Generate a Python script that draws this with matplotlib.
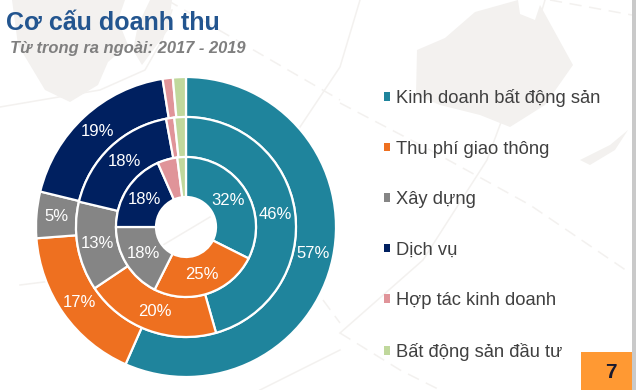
import matplotlib
matplotlib.use("Agg")
import matplotlib.pyplot as plt
from matplotlib.patches import Polygon, Rectangle

plt.rcParams['font.family'] = ['Liberation Sans', 'DejaVu Sans']

W, H = 636, 390
categories = ["Kinh doanh bất động sản", "Thu phí giao thông", "Xây dựng", "Dịch vụ",
              "Hợp tác kinh doanh", "Bất động sản đầu tư"]
colors = ["#1F849C", "#EE7020", "#858585", "#002060", "#E09499", "#C0D89C"]
values_2017 = [32.4, 25.0, 17.6, 18.4, 4.6, 2.0]
values_2018 = [45.6, 20.0, 13.1, 18.4, 1.2, 1.7]
values_2019 = [56.6, 17.2, 5.0, 18.7, 1.1, 1.4]
title = "Cơ cấu doanh thu"
subtitle = "Từ trong ra ngoài: 2017 - 2019"
page = "7"

fig = plt.figure(figsize=(W / 100, H / 100), dpi=100, facecolor="white")

# slide background decoration, in pixel coordinates
bg = fig.add_axes([0, 0, 1, 1])
bg.set_xlim(0, W)
bg.set_ylim(H, 0)
bg.axis("off")
land = "#F3F1EF"
bg.add_patch(Polygon([(12, 0), (125, 0), (118, 20), (128, 45), (108, 62), (98, 85), (70, 102), (45, 90),
                      (18, 45)], color=land, lw=0))
bg.add_patch(Polygon([(150, 0), (172, 0), (168, 30), (142, 65), (133, 50), (138, 25)], color=land, lw=0))
bg.add_patch(Polygon([(417, 50), (445, 38), (475, 12), (518, 0), (520, 14), (535, 20), (540, 5), (562, 45),
                      (573, 65), (545, 105), (510, 127), (480, 115), (440, 105), (416, 95)], color=land, lw=0))
bg.add_patch(Polygon([(580, 160), (610, 145), (628, 130), (615, 150), (590, 165)], color=land, lw=0))
solid = [([340, 423, 487, 540, 545], [333, 260, 160, 17, 0]),
         ([0, 100, 145, 162, 172], [107, 90, 70, 40, 10]),
         ([20, 60], [285, 280]),
         ([163, 210], [245, 217]),
         ([300, 340, 360], [127, 67, 0]),
         ([260, 340], [390, 350])]
dashed = [([340, 430, 530, 630], [103, 150, 205, 273]),
          ([167, 340], [0, 100]),
          ([323, 340], [300, 323]),
          ([340, 400, 440], [333, 370, 390]),
          ([550, 632], [0, 15])]
for xs, ys in solid:
    bg.plot(xs, ys, color="#F3F1EF", lw=1.1, zorder=1)
for xs, ys in dashed:
    bg.plot(xs, ys, color="#F3F1EF", lw=1.1, zorder=1, ls=(0, (8, 5)))
bg.add_patch(Rectangle((632, 0), 4, H, color="#C9C9C9", lw=0))
bg.add_patch(Rectangle((581, 352), 51, 38, color="#FF9933", lw=0))
bg.text(611, 372, page, fontsize=15, fontweight="bold", color="#1A1A2E", ha="center", va="center")
bg.text(6, 30.5, title, fontsize=18, fontweight="bold", color="#23558F", ha="left", va="baseline")
bg.text(10, 53, subtitle, fontsize=11.9, fontweight="bold", fontstyle="italic", color="#7F7F7F",
        ha="left", va="baseline")

# donut: centre (186, 227), outer radius 150 px
cx, cy, R = 186, 227, 150
ax = fig.add_axes([(cx - R) / W, 1 - (cy + R) / H, 2 * R / W, 2 * R / H])
ax.patch.set_alpha(0)
rings = [(values_2019, 150), (values_2018, 110), (values_2017, 70)]
width = 40 / 150
handles = None
for vals, r_px in rings:
    r = r_px / 150
    wedges, _, autotexts = ax.pie(
        vals, colors=colors, radius=r, startangle=90, counterclock=False,
        wedgeprops=dict(width=width, edgecolor="white", linewidth=1.6),
        autopct=lambda p: f"{p:.0f}%" if p >= 4.9 else "",
        pctdistance=(r - width / 2) / r,
        textprops=dict(color="white", fontsize=12), frame=False)
    if handles is None:
        handles = wedges
ax.set_xlim(-1, 1)
ax.set_ylim(-1, 1)
ax.set_aspect("equal")

leg = bg.legend(handles, categories, loc="upper left", bbox_to_anchor=(383.5 / W, 1 - 89 / H),
                bbox_transform=fig.transFigure, frameon=False, fontsize=13.2, labelcolor="#404040",
                handlelength=0.36, handleheight=0.36, handletextpad=0.3, labelspacing=1.83,
                borderpad=0, borderaxespad=0)
for h, c in zip(leg.legend_handles, colors):
    h.set_edgecolor(c)
    h.set_linewidth(0)

fig.savefig("out.png", dpi=100)
